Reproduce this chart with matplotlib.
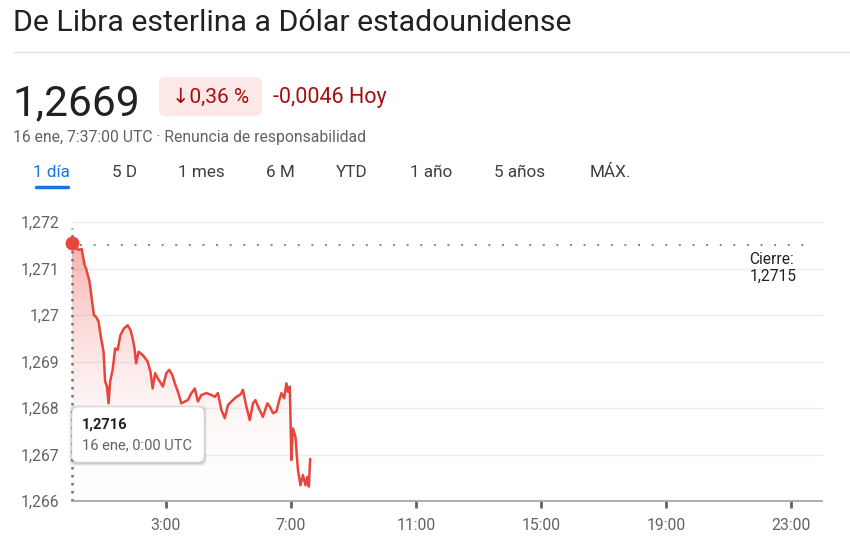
import numpy as np
import matplotlib
matplotlib.use("Agg")
import matplotlib.pyplot as plt
from matplotlib.colors import LinearSegmentedColormap
from matplotlib.patches import FancyBboxPatch
from matplotlib.transforms import IdentityTransform

plt.rcParams['font.family'] = ['Roboto', 'DejaVu Sans']

# GBP -> USD, 16 ene, hours since 0:00 UTC
hours = [0.0, 0.13, 0.24, 0.31, 0.40, 0.45, 0.56, 0.63, 0.70, 0.77, 0.85, 0.93,
         1.01, 1.06, 1.12, 1.17, 1.22, 1.30, 1.38, 1.46, 1.55, 1.66, 1.78, 1.87,
         1.94, 2.00, 2.05, 2.13, 2.26, 2.42, 2.51, 2.58, 2.66, 2.74, 2.81, 2.91,
         3.02, 3.11, 3.21, 3.29, 3.39, 3.50, 3.61, 3.71, 3.82, 3.93, 4.03, 4.14,
         4.30, 4.46, 4.57, 4.67, 4.78, 4.89, 4.99, 5.10, 5.26, 5.37, 5.42, 5.47,
         5.58, 5.69, 5.79, 5.87, 5.98, 6.11, 6.25, 6.33, 6.43, 6.54, 6.62, 6.70,
         6.79, 6.86, 6.91, 6.97, 7.02, 7.07, 7.15, 7.23, 7.31, 7.39, 7.47, 7.53,
         7.58, 7.62]
rate = [1.27154, 1.27143, 1.27140, 1.27142, 1.27108, 1.27100, 1.27072, 1.27036,
        1.27000, 1.26996, 1.26986, 1.26950, 1.26921, 1.26857, 1.26846, 1.26810,
        1.26857, 1.26882, 1.26928, 1.26925, 1.26957, 1.26971, 1.26978, 1.26968,
        1.26950, 1.26928, 1.26896, 1.26921, 1.26914, 1.26900, 1.26878, 1.26842,
        1.26875, 1.26864, 1.26857, 1.26846, 1.26875, 1.26882, 1.26871, 1.26853,
        1.26835, 1.26810, 1.26814, 1.26817, 1.26832, 1.26842, 1.26814, 1.26828,
        1.26832, 1.26828, 1.26824, 1.26832, 1.26796, 1.26778, 1.26806, 1.26814,
        1.26824, 1.26828, 1.26832, 1.26839, 1.26803, 1.26774, 1.26810, 1.26817,
        1.26799, 1.26781, 1.26810, 1.26803, 1.26789, 1.26792, 1.26814, 1.26832,
        1.26821, 1.26853, 1.26835, 1.26846, 1.26688, 1.26756, 1.26738, 1.26667,
        1.26634, 1.26656, 1.26634, 1.26652, 1.26631, 1.26690]
close_prev = 1.2715
y_ticks = [1.266, 1.267, 1.268, 1.269, 1.27, 1.271, 1.272]
y_labels = ["1,266", "1,267", "1,268", "1,269", "1,27", "1,271", "1,272"]
x_ticks = [3, 7, 11, 15, 19, 23]
x_labels = ["3:00", "7:00", "11:00", "15:00", "19:00", "23:00"]
tabs = ["1 día", "5 D", "1 mes", "6 M", "YTD", "1 año", "5 años", "MÁX."]
tab_x = [51, 124, 201, 280, 352, 431, 520, 610]

W, H = 850, 543
RED = "#e8453c"
fig = plt.figure(figsize=(W / 100, H / 100), dpi=100)
fig.patch.set_facecolor("white")


def fx(x):
    return x / W


def fy(y):
    return 1 - y / H


# header
fig.text(fx(13), fy(31), "De Libra esterlina a Dólar estadounidense", fontsize=21.8,
         color="#202124", va="baseline")
fig.add_artist(plt.Line2D([fx(13), fx(850)], [fy(52), fy(52)], color="#e3e3e3", lw=1))
fig.text(fx(12), fy(115), "1,2669", fontsize=30.5, color="#202124", va="baseline")
fig.patches.append(FancyBboxPatch((159 + 6, H - 116 + 6), 103 - 12, 39 - 12,
                                  boxstyle="round,pad=6", fc="#fce8e6", ec="none",
                                  transform=IdentityTransform(), figure=fig))
fig.text(fx(211), fy(103), "↓0,36 %", fontsize=15, color="#a50e0e", va="baseline", ha="center")
fig.text(fx(273), fy(103), "-0,0046 Hoy", fontsize=15.5, color="#a50e0e", va="baseline")
fig.text(fx(13), fy(142), "16 ene, 7:37:00 UTC · Renuncia de responsabilidad",
         fontsize=11.3, color="#5f6368", va="baseline")
for i, t in enumerate(tabs):
    fig.text(fx(tab_x[i]), fy(177), t, fontsize=12.3, va="baseline", ha="center",
             color="#1a73e8" if i == 0 else "#3c4043")
fig.add_artist(plt.Line2D([fx(36), fx(68)], [fy(187), fy(187)], color="#1a73e8", lw=2.5,
                          solid_capstyle="round"))

# chart
ax = fig.add_axes([fx(72), fy(501), fx(822) - fx(72), fy(222) - fy(501)])
for yt in y_ticks[1:]:
    ax.axhline(yt, color="#ececec", lw=1, zorder=0, clip_on=False)

grad = np.linspace(0, 1, 256).reshape(-1, 1)
cmap = LinearSegmentedColormap.from_list("g", [(1, 1, 1, 0), (0.91, 0.27, 0.24, 0.42)])
im = ax.imshow(grad, cmap=cmap, aspect="auto", origin="lower",
               extent=[0, hours[-1], 1.266, max(rate)], zorder=1)
poly = ax.fill_between(hours, rate, 1.266, color="none", lw=0)
im.set_clip_path(poly.get_paths()[0], transform=ax.transData)

ax.plot(hours, rate, color=RED, lw=1.8, zorder=3, solid_joinstyle="round")
ax.plot([0.25, 23.6], [close_prev, close_prev], color="#80868b", lw=1.4,
        ls=(0, (1, 6)), zorder=2)
ax.plot([0, 0], [1.266, 1.27188], color="#70757a", lw=1.8, ls=(0, (1, 2.2)),
        zorder=2, clip_on=False)
ax.plot(hours[0], rate[0], "o", color=RED, ms=9, zorder=4, clip_on=False)
ax.text(21.68, 1.27102, "Cierre:\n1,2715", fontsize=11.2, color="#202124",
        va="center", ha="left", linespacing=1.15)

ax.set_xlim(0, 24)
ax.set_ylim(1.266, 1.272)
ax.set_xticks(x_ticks)
ax.set_xticklabels(x_labels)
ax.set_yticks(y_ticks)
ax.set_yticklabels(y_labels)
for s in ["top", "right", "left"]:
    ax.spines[s].set_visible(False)
ax.spines["bottom"].set_color("#9aa0a6")
ax.spines["bottom"].set_linewidth(1.2)
ax.tick_params(axis="x", length=5, width=2, color="#5f6368", labelsize=11.3,
               labelcolor="#5f6368", pad=7)
ax.tick_params(axis="y", length=0, labelsize=11.3, labelcolor="#5f6368", pad=9)
ax.patch.set_alpha(0)

# tooltip
for off, a in [(3, 0.05), (2, 0.07), (1, 0.09)]:
    fig.patches.append(FancyBboxPatch((72 + 6 - off, H - 462 + 6 - off - 1), 132 - 12 + 2 * off,
                                      55 - 12 + 2 * off, boxstyle="round,pad=6",
                                      fc=(0, 0, 0, a), ec="none",
                                      transform=IdentityTransform(), figure=fig, zorder=5))
fig.patches.append(FancyBboxPatch((72 + 6, H - 462 + 6), 132 - 12, 55 - 12,
                                  boxstyle="round,pad=6", fc="white", ec="#e0e0e0", lw=0.6,
                                  transform=IdentityTransform(), figure=fig, zorder=6))
fig.text(fx(82), fy(429), "1,2716", fontsize=10.5, fontweight="bold", color="#202124",
         va="baseline", zorder=7)
fig.text(fx(82), fy(449), "16 ene, 0:00 UTC", fontsize=10.5, color="#5f6368",
         va="baseline", zorder=7)

fig.savefig("out.png", dpi=100)
